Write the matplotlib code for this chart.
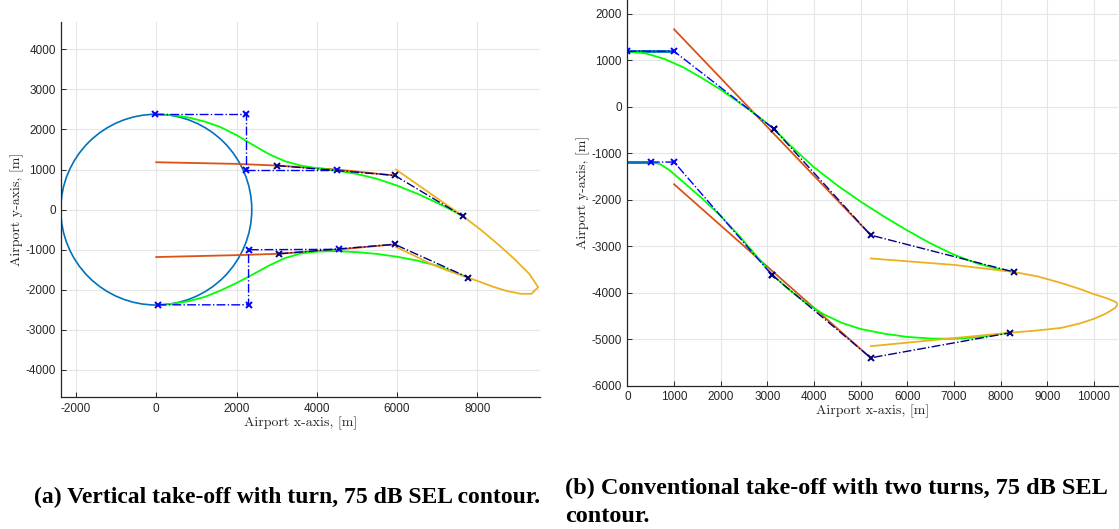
import matplotlib
matplotlib.use("Agg")
import matplotlib.pyplot as plt
from matplotlib.patches import Circle

# MATLAB style colours
C_CIRCLE = "#0072BD"
C_RED = "#D95319"
C_YELLOW = "#EDB120"
C_GREEN = "#00FF00"
C_WP = "#0000FF"
C_WP2 = "#000080"

### (a) vertical take-off with turn ###
a_circle_r = 2380

a_wp_top_x = [-40, 2240, 2240, 4500]
a_wp_top_y = [2375, 2375, 1000, 1000]
a_wp_bot_x = [35, 2300, 2300, 4560]
a_wp_bot_y = [-2375, -2375, -1000, -990]

a_nav_top_x = [3005, 5940, 7650]
a_nav_top_y = [1100, 855, -170]
a_nav_bot_x = [3070, 5940, 7780]
a_nav_bot_y = [-1100, -865, -1695]

a_red_top_x = [0, 2000, 3000, 4500, 5940]
a_red_top_y = [1183, 1142, 1100, 1000, 852]
a_red_bot_x = [0, 2100, 3070, 4560, 5940]
a_red_bot_y = [-1183, -1133, -1100, -992, -865]

a_green_top_x = [-40, 400, 800, 1200, 1600, 2000, 2400, 2800, 3200, 3600, 4000, 4500, 5000, 5500, 6000, 6500, 7000, 7400, 7650]
a_green_top_y = [2375, 2360, 2300, 2200, 2060, 1860, 1620, 1390, 1210, 1100, 1035, 975, 890, 770, 600, 400, 170, -30, -170]
a_green_bot_x = [35, 400, 800, 1200, 1600, 2000, 2400, 2800, 3200, 3600, 4000, 4500, 5000, 5500, 6000, 6500, 7000, 7400, 7780]
a_green_bot_y = [-2375, -2350, -2285, -2180, -2020, -1830, -1620, -1400, -1210, -1095, -1045, -1035, -1060, -1105, -1175, -1270, -1400, -1550, -1695]

a_contour_x = [5975, 7650, 8083, 8500, 8917, 9083, 9292, 9517, 9350, 9083, 8750, 8417, 8083, 7780, 7250, 6833, 6417, 5975]
a_contour_y = [1000, -170, -500, -850, -1225, -1392, -1600, -1933, -2100, -2100, -2033, -1933, -1808, -1700, -1517, -1350, -1142, -933]

### (b) conventional take-off with two turns ###
b_runway_top_x = [0, 1000]
b_runway_top_y = [1197, 1197]
b_runway_bot_x = [0, 500]
b_runway_bot_y = [-1187, -1187]

b_wp_top_x = [0, 1000, 3134]
b_wp_top_y = [1197, 1197, -468]
b_wp_bot_x = [500, 1000, 3088]
b_wp_bot_y = [-1187, -1187, -3608]

b_nav_top_x = [3134, 5215, 8295]
b_nav_top_y = [-468, -2760, -3555]
b_nav_bot_x = [3088, 5215, 8210]
b_nav_bot_y = [-3608, -5400, -4860]

b_red_top_x = [1000, 5215]
b_red_top_y = [1670, -2760]
b_red_bot_x = [1000, 5215]
b_red_bot_y = [-1665, -5405]

b_green_top_x = [0, 400, 800, 1200, 1600, 2000, 2400, 2800, 3134, 3500, 4000, 4500, 5000, 5500, 6000, 6500, 7000, 7500, 8000, 8295]
b_green_top_y = [1197, 1150, 1030, 850, 620, 370, 90, -200, -468, -840, -1300, -1690, -2040, -2360, -2660, -2940, -3180, -3370, -3500, -3555]
b_green_bot_x = [500, 700, 900, 1200, 1600, 2000, 2400, 2800, 3088, 3400, 3800, 4200, 4600, 5000, 5500, 6000, 6500, 7000, 7500, 8210]
b_green_bot_y = [-1187, -1230, -1360, -1620, -1970, -2350, -2780, -3250, -3590, -3880, -4200, -4460, -4650, -4780, -4880, -4950, -4985, -4990, -4960, -4860]

b_contour_x = [5215, 7000, 8295, 8800, 9300, 9700, 10000, 10250, 10450, 10515, 10450, 10250, 10000, 9700, 9300, 8800, 8210, 7000, 5215]
b_contour_y = [-3262, -3400, -3555, -3650, -3790, -3920, -4030, -4110, -4190, -4240, -4330, -4450, -4560, -4660, -4755, -4810, -4860, -4975, -5150]

plt.rcParams["axes.unicode_minus"] = False
TICK_FONT = "Liberation Sans"
LABEL_FONT = "cmr10"
TXT = "#262626"


def style_axes(ax, xticks, yticks):
    ax.set_xticks(xticks)
    ax.set_yticks(yticks)
    ax.grid(True, color="#E6E6E6", lw=0.8)
    ax.set_axisbelow(True)
    for side in ["top", "right"]:
        ax.spines[side].set_visible(False)
    for side in ["left", "bottom"]:
        ax.spines[side].set_color(TXT)
        ax.spines[side].set_linewidth(0.9)
    ax.tick_params(direction="in", length=3.5, width=0.7, color=TXT,
                   labelcolor=TXT, labelsize=8.5, pad=4)
    for lab in ax.get_xticklabels() + ax.get_yticklabels():
        lab.set_fontfamily(TICK_FONT)
    ax.set_xlabel("Airport x-axis, [m]", fontfamily=LABEL_FONT, fontsize=10,
                  color=TXT, labelpad=1)
    ax.set_ylabel("Airport y-axis, [m]", fontfamily=LABEL_FONT, fontsize=10,
                  color=TXT, labelpad=1)


def waypoints(ax, x, y, color):
    ax.plot(x, y, linestyle="-.", color=color, lw=1.0, marker="x",
            markersize=5, markeredgewidth=1.4, zorder=5)


fig = plt.figure(figsize=(11.19, 5.29), dpi=100)

# panel (a)
ax1 = fig.add_axes([0.0548, 0.249, 0.4278, 0.710])
ax1.add_patch(Circle((0, 0), a_circle_r, fill=False, color=C_CIRCLE, lw=1.2))
ax1.plot(a_red_top_x, a_red_top_y, color=C_RED, lw=1.3)
ax1.plot(a_red_bot_x, a_red_bot_y, color=C_RED, lw=1.3)
ax1.plot(a_green_top_x, a_green_top_y, color=C_GREEN, lw=1.3)
ax1.plot(a_green_bot_x, a_green_bot_y, color=C_GREEN, lw=1.3)
ax1.plot(a_contour_x, a_contour_y, color=C_YELLOW, lw=1.3)
waypoints(ax1, a_wp_top_x, a_wp_top_y, C_WP)
waypoints(ax1, a_wp_bot_x, a_wp_bot_y, C_WP)
waypoints(ax1, a_nav_top_x, a_nav_top_y, C_WP2)
waypoints(ax1, a_nav_bot_x, a_nav_bot_y, C_WP2)
ax1.set_xlim(-2366, 9563)
ax1.set_ylim(-4682, 4690)
style_axes(ax1, range(-2000, 8001, 2000), range(-4000, 4001, 1000))

# panel (b)
ax2 = fig.add_axes([0.5607, 0.2709, 0.4384, 0.7291])
ax2.plot(b_runway_top_x, b_runway_top_y, color=C_CIRCLE, lw=2.0)
ax2.plot(b_runway_bot_x, b_runway_bot_y, color=C_CIRCLE, lw=2.0)
ax2.plot(b_red_top_x, b_red_top_y, color=C_RED, lw=1.3)
ax2.plot(b_red_bot_x, b_red_bot_y, color=C_RED, lw=1.3)
ax2.plot(b_green_top_x, b_green_top_y, color=C_GREEN, lw=1.3)
ax2.plot(b_green_bot_x, b_green_bot_y, color=C_GREEN, lw=1.3)
ax2.plot(b_contour_x, b_contour_y, color=C_YELLOW, lw=1.3)
waypoints(ax2, b_wp_top_x, b_wp_top_y, C_WP)
waypoints(ax2, b_wp_bot_x, b_wp_bot_y, C_WP)
waypoints(ax2, b_nav_top_x, b_nav_top_y, C_WP2)
waypoints(ax2, b_nav_bot_x, b_nav_bot_y, C_WP2)
ax2.set_xlim(0, 10514)
ax2.set_ylim(-6000, 2301)
style_axes(ax2, range(0, 10001, 1000), range(-6000, 2001, 1000))

# captions
cap = dict(fontfamily="Liberation Serif", fontweight="bold", color="black")
fig.text(287 / 1119, 1 - 497 / 529, "(a) Vertical take-off with turn, 75 dB SEL contour.",
         ha="center", va="center", fontsize=17, **cap)
fig.text(565 / 1119, 1 - 488 / 529, "(b) Conventional take-off with two turns, 75 dB SEL",
         ha="left", va="center", fontsize=17.5, **cap)
fig.text(565 / 1119, 1 - 517 / 529, "contour.", ha="left", va="center", fontsize=17.5, **cap)

fig.savefig("out.png", dpi=100)
